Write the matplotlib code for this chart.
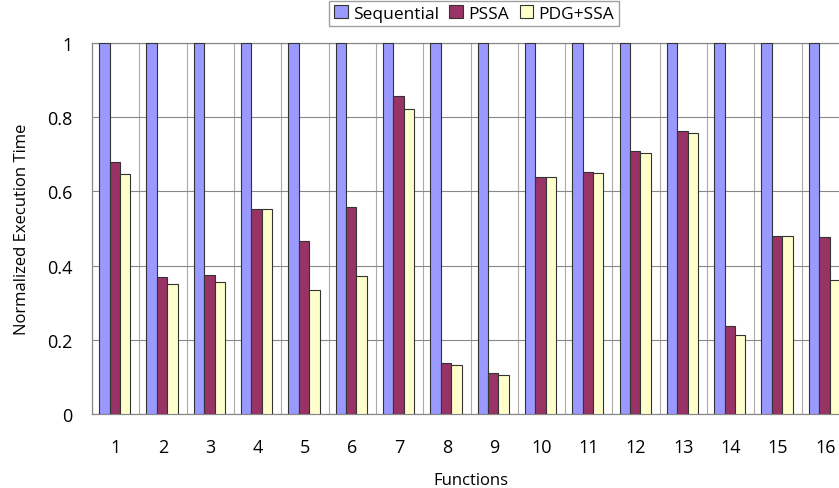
import numpy as np
import matplotlib.pyplot as plt

plt.rcParams['font.family'] = ['Open Sans', 'DejaVu Sans']

functions = [str(i) for i in range(1, 17)]
sequential = [1.0] * 16
pssa = [0.68, 0.37, 0.375, 0.552, 0.465, 0.557, 0.857, 0.137,
        0.11, 0.638, 0.651, 0.71, 0.762, 0.236, 0.48, 0.477]
pdg_ssa = [0.648, 0.35, 0.355, 0.552, 0.335, 0.372, 0.822, 0.133,
           0.105, 0.638, 0.649, 0.703, 0.757, 0.214, 0.48, 0.36]

fig = plt.figure(figsize=(8.39, 4.89), dpi=100)
# the original is cut off at the right edge, so the axes run past the figure
ax = fig.add_axes([92 / 839, 1 - 415 / 489, 757 / 839, 371 / 489])

x = np.arange(len(functions))
w = 0.22
style = dict(edgecolor='#333333', linewidth=0.8, zorder=3)
ax.bar(x - w - 0.02, sequential, w, color='#9999ff', label='Sequential', **style)
ax.bar(x - 0.02, pssa, w, color='#993366', label='PSSA', **style)
ax.bar(x + w - 0.02, pdg_ssa, w, color='#ffffcc', label='PDG+SSA', **style)

ax.set_xlim(-0.5, len(functions) - 0.5)
ax.set_ylim(0, 1)
ax.set_xticks(x)
ax.set_xticklabels(functions)
ax.set_yticks([0, 0.2, 0.4, 0.6, 0.8, 1])
ax.set_yticklabels(['0', '0.2', '0.4', '0.6', '0.8', '1'])
ax.tick_params(length=0, labelsize=13)
ax.tick_params(axis='x', pad=17)
ax.tick_params(axis='y', pad=14)

ax.set_xticks(np.arange(-0.5, len(functions)), minor=True)
ax.grid(axis='y', color='#888888', linewidth=0.8, zorder=0)
ax.grid(axis='x', which='minor', color='#aaaaaa', linewidth=0.8, zorder=0)
ax.tick_params(which='minor', length=0)
for s in ax.spines.values():
    s.set_color('#888888')
    s.set_linewidth(0.9)

ax.set_xlabel('Functions', fontsize=12, labelpad=12)
ax.set_ylabel('Normalized Execution Time', fontsize=12, labelpad=12)

fig.legend(loc='upper center', bbox_to_anchor=(474 / 839, 1.0), ncol=3,
           fontsize=12.5, frameon=True, fancybox=False, edgecolor='#888888',
           handlelength=0.8, handleheight=0.8, handletextpad=0.3,
           columnspacing=0.6, borderpad=0.25, borderaxespad=0.1)

fig.savefig('out.png', dpi=100)
